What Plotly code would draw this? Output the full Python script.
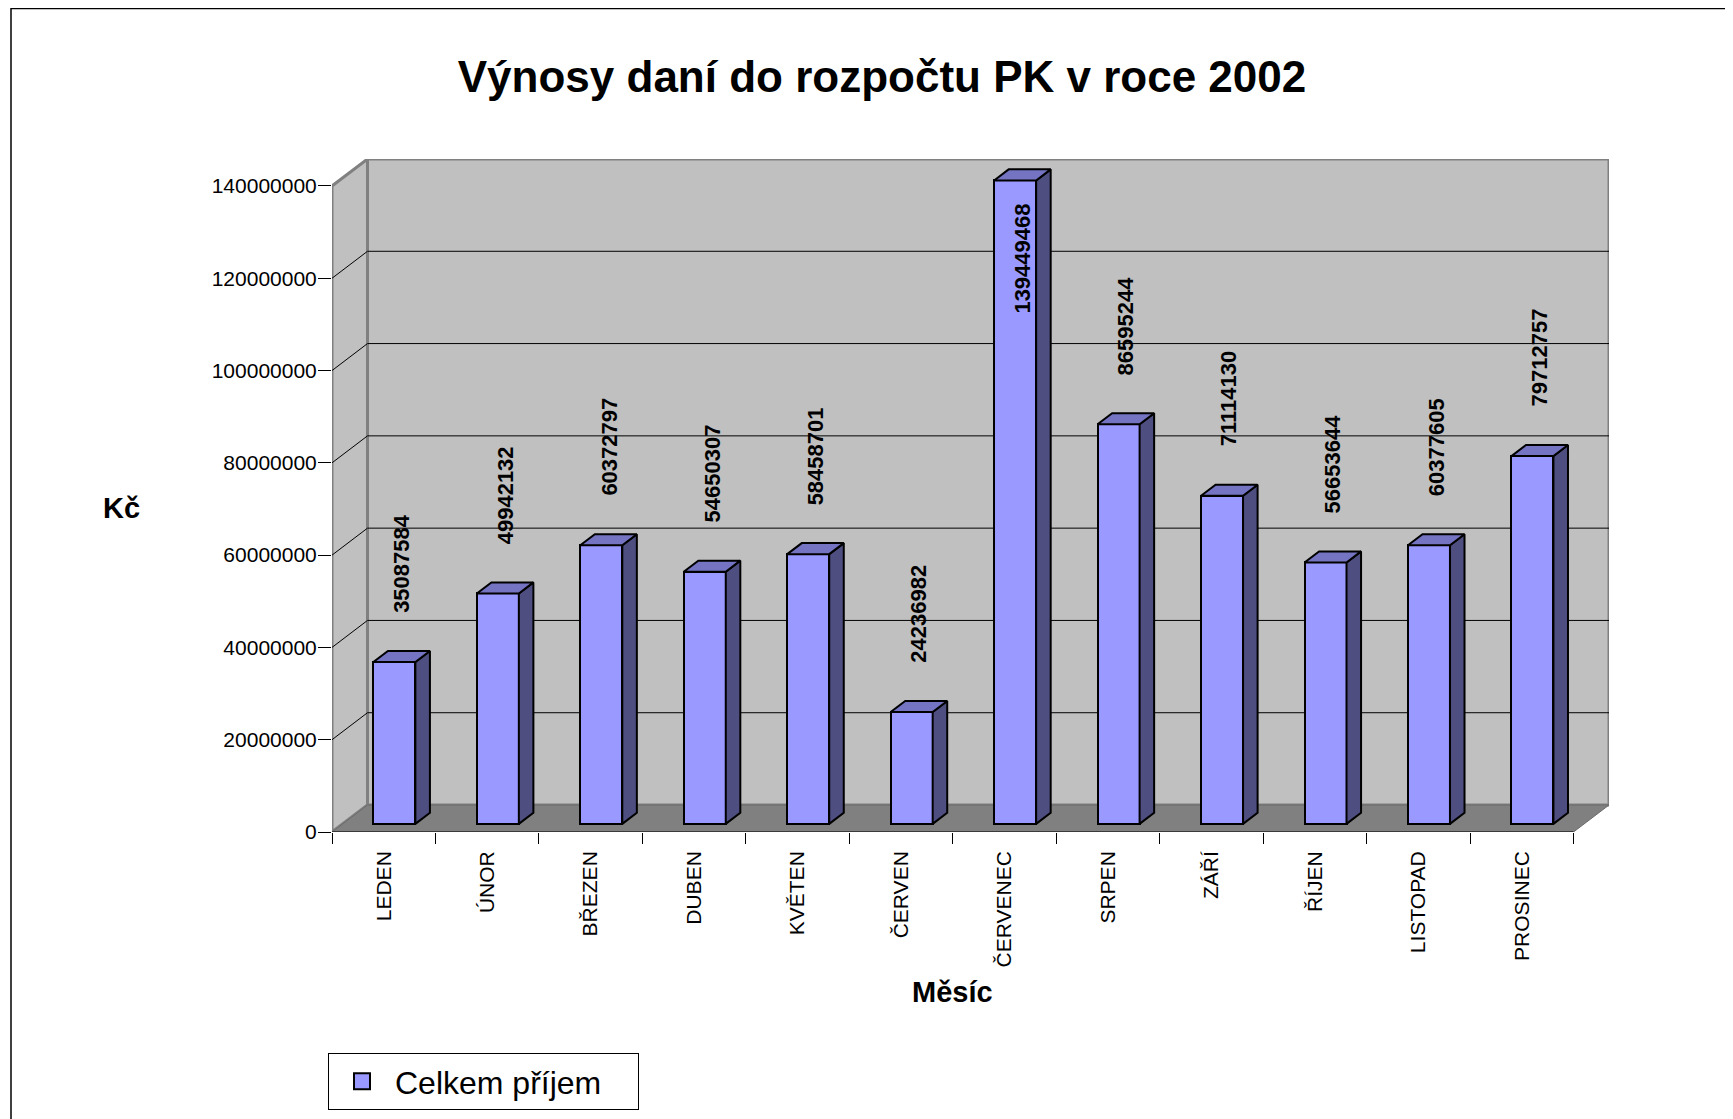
import plotly.graph_objects as go

# ---------------- data ----------------
months = ["LEDEN", "ÚNOR", "BŘEZEN", "DUBEN", "KVĚTEN", "ČERVEN",
          "ČERVENEC", "SRPEN", "ZÁŘÍ", "ŘÍJEN", "LISTOPAD", "PROSINEC"]
values = [35087584, 49942132, 60372797, 54650307, 58458701, 24236982,
          139449468, 86595244, 71114130, 56653644, 60377605, 79712757]
y_ticks = [0, 20000000, 40000000, 60000000, 80000000, 100000000, 120000000, 140000000]
series_name = "Celkem příjem"
title_text = "Výnosy daní do rozpočtu PK v roce 2002"
x_title = "Měsíc"
y_title = "Kč"

# ---------------- geometry / style ----------------
OFF = 8                                   # page body margin
W, H = 1733 - OFF, 1119 - OFF
PL, PR, PT, PB = 332 - OFF, 1609 - OFF, 159 - OFF, 832 - OFF   # plot area (px)
N = len(months)
YMAX = y_ticks[-1]
DX = 0.343            # depth offset in category units
DY = 5.85e6           # depth offset in value units
F1, F2 = 0.30, 0.71   # bar depth (front / back) as fraction of depth
BAR_W = 0.406
LABEL_OFF = 12e6
LABEL_MAX = 112e6

FRONT = "#9999FF"
SIDE = "#4E4E80"
TOP = "#7474C2"
WALL = "#C0C0C0"
FLOOR = "#808080"
EDGE = "#808080"
FONT = "Liberation Sans, Arial, sans-serif"


def px_x(px):
    return (px - OFF - PL) / (PR - PL)


def px_y(py):
    return (PB - (py - OFF)) / (PB - PT)


def path(pts):
    return "M " + " L ".join(f"{x},{y}" for x, y in pts) + " Z"


shapes = []
# back wall
shapes.append(dict(type="path", xref="x", yref="y", layer="below",
                   path=path([(DX, DY), (N + DX, DY), (N + DX, YMAX + DY), (DX, YMAX + DY)]),
                   fillcolor=WALL, line=dict(color=EDGE, width=3)))
# left wall
shapes.append(dict(type="path", xref="x", yref="y", layer="below",
                   path=path([(0, 0), (DX, DY), (DX, YMAX + DY), (0, YMAX)]),
                   fillcolor=WALL, line=dict(color=EDGE, width=3)))
# gridlines on walls
for v in y_ticks[1:-1]:
    shapes.append(dict(type="line", xref="x", yref="y", layer="below",
                       x0=DX, y0=v + DY, x1=N + DX, y1=v + DY,
                       line=dict(color="#000000", width=1)))
    shapes.append(dict(type="line", xref="x", yref="y", layer="below",
                       x0=0, y0=v, x1=DX, y1=v + DY,
                       line=dict(color="#000000", width=1)))
# floor
shapes.append(dict(type="path", xref="x", yref="y", layer="below",
                   path=path([(0, 0), (N, 0), (N + DX, DY), (DX, DY)]),
                   fillcolor=FLOOR, line=dict(color="#6A6A6A", width=1)))
# front axis line
shapes.append(dict(type="line", xref="x", yref="y", layer="below",
                   x0=0, y0=0, x1=N, y1=0, line=dict(color="#000000", width=1)))
# outer chart border
shapes.append(dict(type="rect", xref="paper", yref="paper",
                   x0=px_x(11), y0=px_y(1140), x1=px_x(1760), y1=px_y(8.5),
                   line=dict(color="#000000", width=1.5), fillcolor="rgba(0,0,0,0)"))

fig = go.Figure()

# front faces of the bars
xc = [i + 0.5 + F1 * DX for i in range(N)]
fig.add_trace(go.Bar(
    x=xc, y=values, base=[F1 * DY] * N, width=BAR_W,
    marker=dict(color=FRONT, line=dict(color="#000000", width=2)),
    showlegend=False, name=series_name))

# side and top faces
ddx = (F2 - F1) * DX
ddy = (F2 - F1) * DY
sx, sy, tx, ty = [], [], [], []
for i, v in enumerate(values):
    xl = xc[i] - BAR_W / 2
    xr = xc[i] + BAR_W / 2
    b = F1 * DY
    top = b + v
    sx += [xr, xr + ddx, xr + ddx, xr, xr, None]
    sy += [b, b + ddy, top + ddy, top, b, None]
    tx += [xl, xr, xr + ddx, xl + ddx, xl, None]
    ty += [top, top, top + ddy, top + ddy, top, None]
fig.add_trace(go.Scatter(x=sx, y=sy, mode="lines", fill="toself", fillcolor=SIDE,
                         line=dict(color="#000000", width=2), showlegend=False,
                         hoverinfo="skip"))
fig.add_trace(go.Scatter(x=tx, y=ty, mode="lines", fill="toself", fillcolor=TOP,
                         line=dict(color="#000000", width=2), showlegend=False,
                         hoverinfo="skip"))
# legend entry
fig.add_trace(go.Scatter(x=[None], y=[None], mode="markers", name=series_name,
                         marker=dict(symbol="square", size=20, color=FRONT,
                                     line=dict(color="#000000", width=2))))

annotations = []
for i, v in enumerate(values):
    annotations.append(dict(
        x=i + 0.5 + (F1 + F2) / 2 * DX, y=min(v + LABEL_OFF, LABEL_MAX),
        xref="x", yref="y", text=str(v), showarrow=False, textangle=-90,
        xanchor="center", yanchor="bottom",
        font=dict(family=FONT, size=22, color="#000000", weight=700)))
annotations.append(dict(x=px_x(121), y=px_y(508), xref="paper", yref="paper",
                        text=y_title, showarrow=False, xanchor="center", yanchor="middle",
                        font=dict(family=FONT, size=29, color="#000000", weight=700)))
annotations.append(dict(x=px_x(952), y=px_y(992), xref="paper", yref="paper",
                        text=x_title, showarrow=False, xanchor="center", yanchor="middle",
                        font=dict(family=FONT, size=29, color="#000000", weight=700)))

fig.update_layout(
    width=W, height=H,
    paper_bgcolor="#FFFFFF", plot_bgcolor="rgba(0,0,0,0)",
    margin=dict(l=PL, r=W - PR, t=PT, b=H - PB, autoexpand=False),
    title=dict(text=title_text, x=(882 - OFF) / W, y=1 - (77 - OFF) / H,
               xanchor="center", yanchor="middle",
               xref="container", yref="container",
               font=dict(family=FONT, size=44, color="#000000", weight=700)),
    font=dict(family=FONT, color="#000000"),
    shapes=shapes, annotations=annotations,
    showlegend=True,
    legend=dict(x=px_x(328), y=px_y(1053), xanchor="left", yanchor="top",
                orientation="h", entrywidth=238, itemwidth=56,
                bgcolor="#FFFFFF", bordercolor="#000000", borderwidth=1,
                font=dict(family=FONT, size=32, color="#000000")),
    xaxis=dict(range=[0, N + DX], showgrid=False, zeroline=False, showline=False,
               tickmode="array", tickvals=[i + 0.5 for i in range(N)], ticktext=months,
               tickangle=-90, ticks="", ticklabelstandoff=14,
               tickfont=dict(family=FONT, size=21, color="#000000"),
               minor=dict(tickmode="array", tickvals=list(range(N + 1)), ticks="outside",
                          ticklen=11, tickcolor="#000000", tickwidth=1)),
    yaxis=dict(range=[0, YMAX + DY], showgrid=False, zeroline=False, showline=False,
               tickmode="array", tickvals=y_ticks, ticktext=[str(t) for t in y_ticks],
               ticks="outside", ticklen=13, tickcolor="#000000", tickwidth=1,
               ticklabelstandoff=-3,
               tickfont=dict(family=FONT, size=21, color="#000000")),
    bargap=0,
)

fig.write_html("out.html")
